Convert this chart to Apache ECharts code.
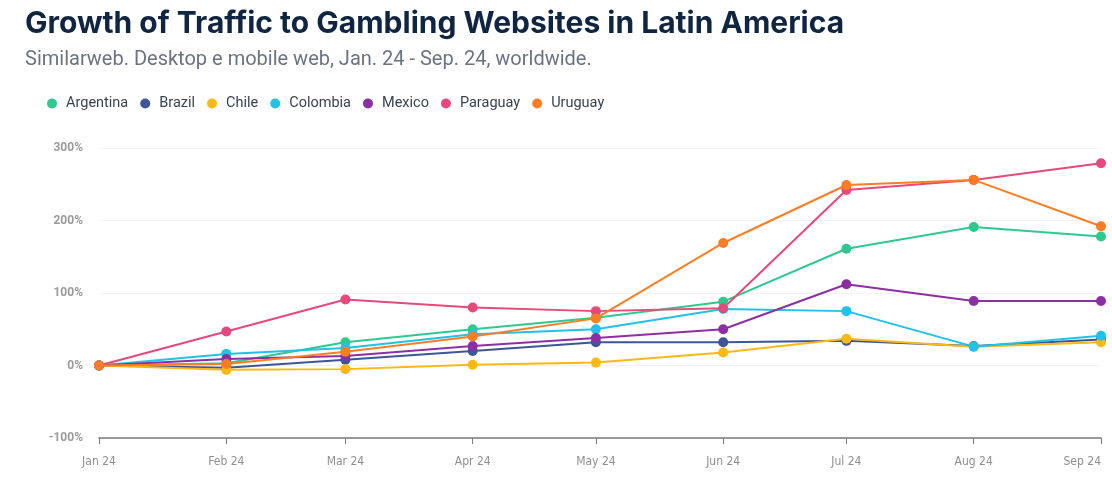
<!DOCTYPE html>
<html><head><meta charset="utf-8">
<script src="https://cdn.jsdelivr.net/npm/echarts@6/dist/echarts.min.js"></script>
<style>html,body{margin:0;padding:0;background:#fff}#c{width:1112px;height:486px}</style>
</head><body><div id="c"></div>
<script>
const months = ['2024-01-01','2024-02-01','2024-03-01','2024-04-01','2024-05-01','2024-06-01','2024-07-01','2024-08-01','2024-09-01'];
const monthLabels = ['Jan 24','Feb 24','Mar 24','Apr 24','May 24','Jun 24','Jul 24','Aug 24','Sep 24'];
const yTicks = [-100, 0, 100, 200, 300];
const countries = ['Argentina','Brazil','Chile','Colombia','Mexico','Paraguay','Uruguay'];
const argentina = [0, 3, 32, 50, 66, 88, 161, 191, 178];
const brazil    = [0, -3, 8, 20, 32, 32, 34, 27, 36];
const chile     = [0, -6, -5, 1, 4, 18, 37, 26, 32];
const colombia  = [0, 16, 24, 43, 50, 78, 75, 26, 41];
const mexico    = [0, 9, 13, 27, 38, 50, 112, 89, 89];
const paraguay  = [0, 47, 91, 80, 75, 79, 242, 256, 279];
const uruguay   = [0, 2, 19, 40, 65, 169, 249, 256, 192];
const colors = ['#2ec98f','#3e5597','#fdb913','#1fc2e8','#8d2fa4','#e6497a','#fd7e22'];
const values = [argentina, brazil, chile, colombia, mexico, paraguay, uruguay];

const chart = echarts.init(document.getElementById('c'));
chart.setOption({
  animation: false,
  color: colors,
  title: {
    text: 'Growth of Traffic to Gambling Websites in Latin America',
    subtext: 'Similarweb. Desktop e mobile web, Jan. 24 - Sep. 24, worldwide.',
    left: 20, top: 4, itemGap: 11,
    textStyle: {fontFamily: 'Inter', fontWeight: 'bold', fontSize: 30, color: '#0f2541'},
    subtextStyle: {fontFamily: 'Roboto', fontSize: 20, color: '#6b7280'}
  },
  legend: {
    data: countries, left: 42, top: 91, icon: 'circle', itemWidth: 18, itemHeight: 10, itemGap: 12,
    textStyle: {fontFamily: 'Roboto', fontSize: 14.5, color: '#3a4352'}
  },
  grid: {left: 99, right: 11, top: 148, bottom: 48, containLabel: false, outerBoundsMode: 'none'},
  xAxis: {
    type: 'time', min: months[0], max: months[months.length-1], splitNumber: 8,
    axisLine: {onZero: false, lineStyle: {color: '#7a7a7a', width: 1.5}},
    axisTick: {show: true, length: 6, lineStyle: {color: '#7a7a7a'}},
    splitLine: {show: false},
    axisLabel: {
      margin: 18, color: '#8f8f8f', fontFamily: 'DejaVu Sans Condensed', fontSize: 12,
      showMinLabel: true, showMaxLabel: true, alignMaxLabel: 'right',
      formatter: function(v){ const d = new Date(v); return monthLabels[d.getUTCMonth()] || ''; }
    }
  },
  yAxis: {
    type: 'value', min: yTicks[0], max: yTicks[yTicks.length-1], interval: 100,
    axisLine: {show: false}, axisTick: {show: false},
    splitLine: {lineStyle: {color: '#f2f2f2', width: 1}},
    axisLabel: {margin: 16, color: '#9a9a9a', fontFamily: 'Roboto', fontSize: 12, fontWeight: 'bold', formatter: '{value}%'}
  },
  series: countries.map((name, i) => ({
    name: name, type: 'line', symbol: 'circle', symbolSize: 10,
    lineStyle: {width: 2}, itemStyle: {color: colors[i]},
    data: months.map((m, j) => [m, values[i][j]])
  }))
});
</script></body></html>
